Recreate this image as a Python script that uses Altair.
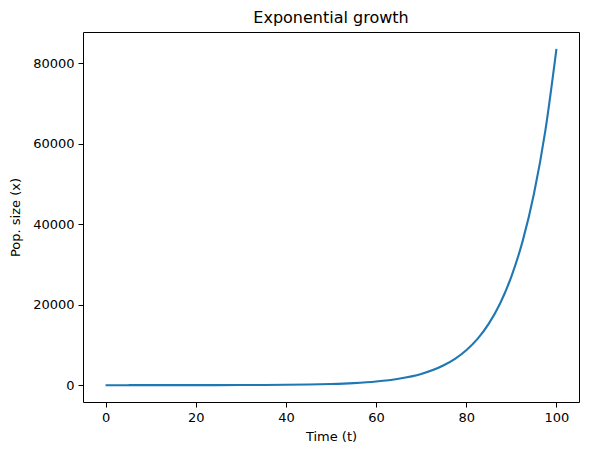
import altair as alt
import pandas as pd

# values
time_t = [0, 5, 10, 15, 20, 25, 30, 35, 40, 45, 50, 55, 60, 65, 70,
          75, 77.5, 80, 82.5, 85, 87.5, 90, 92.5, 95, 97.5, 100]
pop_x = [1, 1.8, 3.1, 5.5, 10, 17, 31, 54, 95, 168, 295, 520, 910, 1600, 2800,
         4950, 6550, 8700, 11500, 15300, 20300, 27000, 35800, 47500, 63000, 83600]

x_ticks = [0, 20, 40, 60, 80, 100]
y_ticks = [0, 20000, 40000, 60000, 80000]

df = pd.DataFrame({"t": time_t, "x": pop_x})

font = "DejaVu Sans"

line = (alt.Chart(df)
        .mark_line(color="#1f77b4", strokeWidth=2.1, interpolate="monotone")
        .encode(
            x=alt.X("t:Q", title="Time (t)",
                    scale=alt.Scale(domain=[-5, 105], nice=False, zero=False),
                    axis=alt.Axis(values=x_ticks, format="d", grid=False,
                                  domain=False, tickSize=5, tickColor="black",
                                  labelPadding=4, titlePadding=6)),
            y=alt.Y("x:Q", title="Pop. size (x)",
                    scale=alt.Scale(domain=[-4180, 87780], nice=False, zero=False),
                    axis=alt.Axis(values=y_ticks, format="d", grid=False,
                                  domain=False, tickSize=5, tickColor="black",
                                  labelPadding=4, titlePadding=10)),
        ))

chart = (line
         .properties(width=496, height=370,
                     title=alt.TitleParams("Exponential growth", font=font,
                                           fontSize=16, fontWeight="normal",
                                           color="black", offset=6),
                     autosize=alt.AutoSizeParams(type="none"),
                     padding={"left": 75, "top": 24, "right": 2, "bottom": 45})
         .configure_view(stroke="black", strokeWidth=1)
         .configure_axis(labelFont=font, titleFont=font, labelFontSize=13,
                         titleFontSize=13, titleFontWeight="normal",
                         labelColor="black", titleColor="black"))

chart.save("out.html", embed_options={"renderer": "svg", "actions": False})
